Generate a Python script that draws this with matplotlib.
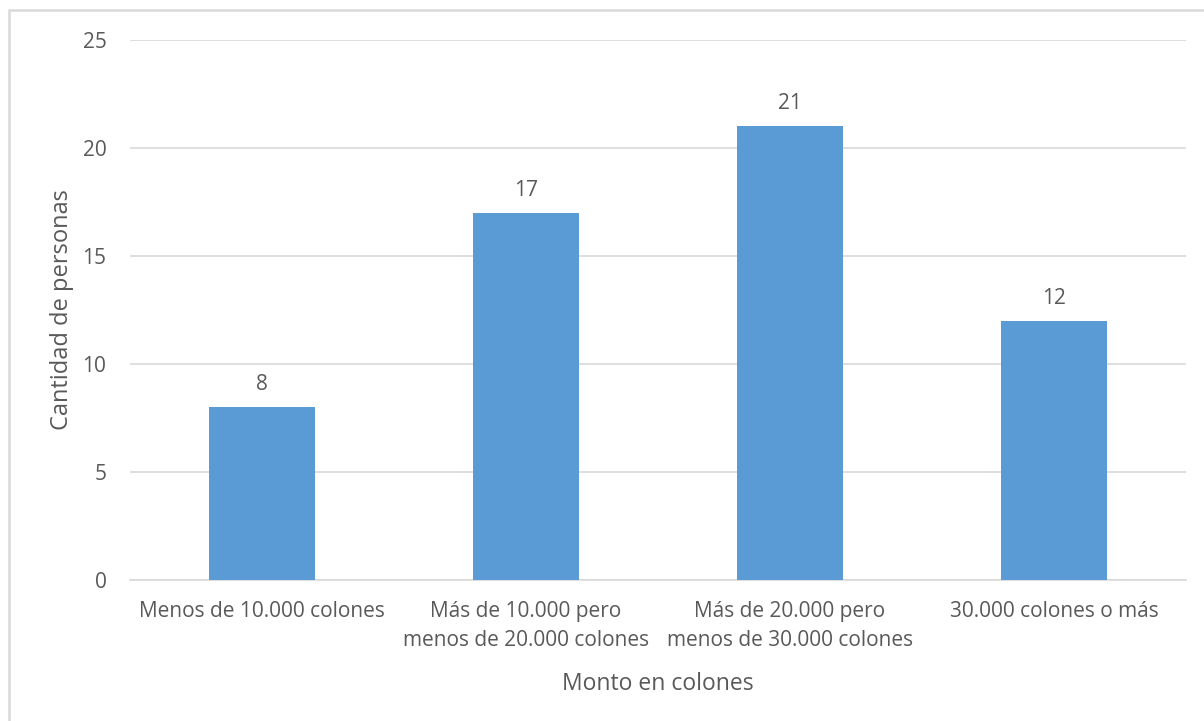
import matplotlib
matplotlib.use("Agg")
import matplotlib.pyplot as plt
from matplotlib.patches import Rectangle

plt.rcParams["font.family"] = ["Open Sans", "DejaVu Sans"]

# ── data ────────────────────────────────────────────────
categories = [
    "Menos de 10.000 colones",
    "Más de 10.000 pero\nmenos de 20.000 colones",
    "Más de 20.000 pero\nmenos de 30.000 colones",
    "30.000 colones o más",
]
personas = [8, 17, 21, 12]
yticks = [0, 5, 10, 15, 20, 25]

TXT = "#595959"
GRID = "#D9D9D9"
BAR = "#5B9BD5"

fig = plt.figure(figsize=(12.04, 7.21), dpi=100)
ax = fig.add_axes([0.108, 0.1956, 0.877, 0.749])

x = range(len(categories))
ax.bar(x, personas, width=0.4, color=BAR, zorder=3)
for xi, v in zip(x, personas):
    ax.text(xi, v + 0.55, str(v), ha="center", va="bottom",
            fontsize=15, color=TXT)

ax.set_xlim(-0.5, len(categories) - 0.5)
ax.set_ylim(0, 25)
ax.set_yticks(yticks)
ax.set_xticks(list(x))
ax.set_xticklabels(categories, fontsize=15, color=TXT, linespacing=1.5)
ax.tick_params(axis="y", labelsize=15, labelcolor=TXT, length=0, pad=17)
ax.tick_params(axis="x", length=0, pad=15)
ax.grid(axis="y", color=GRID, linewidth=1.2, zorder=0)
for s in ["top", "right", "left"]:
    ax.spines[s].set_visible(False)
ax.spines["bottom"].set_color(GRID)
ax.spines["bottom"].set_linewidth(1.2)

ax.set_ylabel("Cantidad de personas", fontsize=17, color=TXT, labelpad=6)
ax.set_xlabel("Monto en colones", fontsize=16.5, color=TXT, labelpad=15)

# chart border (runs off the right and bottom edges)
fig.patches.append(Rectangle((9 / 1204, -20 / 721), 1220 / 1204, 731 / 721,
                             transform=fig.transFigure, fill=False,
                             edgecolor=GRID, linewidth=1.8))

fig.savefig("out.png", dpi=100)
